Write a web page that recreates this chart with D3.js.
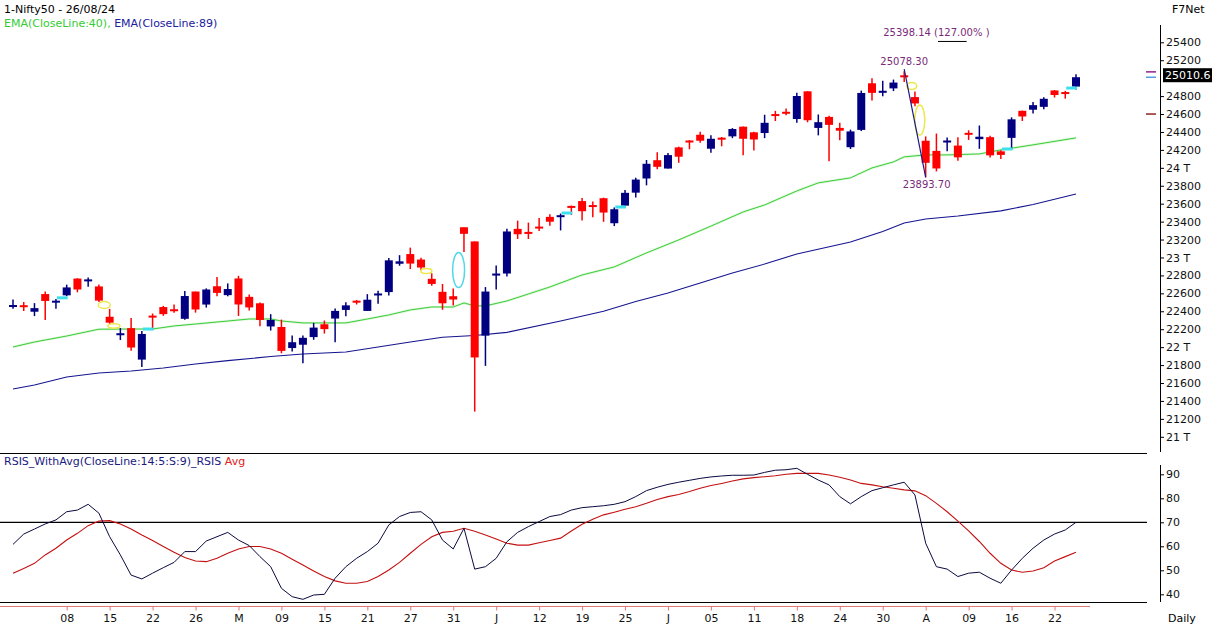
<!DOCTYPE html>
<html><head><meta charset="utf-8">
<script src="https://cdn.jsdelivr.net/npm/d3@7/dist/d3.min.js"></script>
<style>
html,body{margin:0;padding:0;background:#fff;overflow:hidden}
svg{display:block;font-family:"DejaVu Sans",Verdana,sans-serif}
</style></head><body>
<svg id="c" width="1212" height="627"></svg>
<script>
// ---- data (Nifty50 daily, 01 Apr 2024 .. 26 Aug 2024) ----
const opens = [22455,22460,22395,22592,22500,22578,22765,22735,22677,22339,
22140,22212,21861,22345,22447,22421,22316,22620,22475,22679,
22580,22766,22561,22489,22231,22225,21990,22027,22112,22255,
22319,22415,22512,22404,22577,22614,22930,23038,22977,22762,
22617,22568,23337,23179,22128,22798,22821,23319,23283,23344,
23453,23455,23570,23629,23580,23661,23382,23578,23723,23881,
24085,23992,24228,24300,24369,24213,24329,24351,24459,24396,
24388,24590,24615,24544,24853,24445,24568,24445,24230,24423,
24943,24839,24886,25030,24789,24302,24189,24289,24248,24390,
24320,24342,24184,24334,24636,24648,24680,24863,24845,24906];
const highs = [22530,22503,22491,22620,22537,22697,22768,22776,22700,22427,
22213,22326,22179,22375,22460,22476,22625,22620,22655,22783,
22711,22795,22588,22499,22368,22307,22131,22131,22270,22297,
22432,22502,22525,22591,22629,22993,23026,23110,22998,22825,
22705,22653,23338,23179,22670,22910,23320,23411,23389,23441,
23481,23490,23579,23664,23624,23667,23558,23754,23889,24087,
24174,24164,24236,24309,24401,24363,24344,24443,24461,24402,
24592,24635,24661,24837,24854,24595,24582,24504,24426,24861,
24999,24971,24984,25078.3,24851,24350,24382,24337,24340,24419,
24472,24359,24196,24563,24638,24734,24787,24867,24858,25043];
const lows = [22428,22403,22346,22303,22427,22568,22612,22673,22503,22259,
22079,21961,21778,22198,22349,22384,22305,22385,22441,22568,
22567,22348,22409,22232,22185,21932,21950,21821,22082,22151,
22054,22345,22476,22404,22483,22577,22908,22871,22858,22685,
22417,22465,23062,21281,21791,22642,22789,23206,23206,23295,
23354,23302,23473,23412,23450,23398,23350,23562,23670,23805,
23985,23992,24056,24207,24281,24168,24240,24331,24141,24193,
24331,24522,24587,24504,24508,24362,24074,24307,24210,24410,
24750,24798,24856,24956,24686,23893.7,23960,24184,24079,24311,
24212,24116,24099,24204,24522,24607,24654,24784,24771,24874];
const closes = [22462,22453,22435,22515,22514,22666,22643,22754,22519,22273,
22148,21996,22147,22336,22368,22402,22570,22420,22643,22605,
22648,22476,22443,22303,22303,21958,22055,22104,22218,22201,
22404,22466,22502,22529,22598,22968,22957,22932,22888,22705,
22489,22531,23264,21885,22620,22821,23290,23259,23265,23323,
23399,23466,23558,23516,23567,23501,23538,23721,23869,24045,
24011,24142,24124,24287,24302,24324,24321,24433,24324,24316,
24502,24587,24613,24801,24531,24509,24479,24414,24406,24835,
24836,24857,24951,25011,24718,24056,23993,24298,24117,24368,
24347,24139,24144,24541,24573,24699,24770,24812,24823,25010.6];

// EMA lines: candle index / value
const ema40Idx = [0,2,5,8,11,13,15,17,19,22,24,25,27,31,33,35,37,39,41,42,43,44,46,48,50,53,56,59,62,65,68,70,73,75,78,80,82,83,85,87,90,92,95,99];
const ema40Val = [22002,22057,22124,22200,22202,22202,22236,22258,22280,22314,22314,22292,22270,22270,22314,22359,22415,22448,22448,22493,22460,22460,22515,22593,22671,22805,22895,23051,23196,23350,23508,23586,23742,23832,23888,23999,24066,24122,24144,24144,24155,24200,24256,24334];
const ema89Idx = [0,2,5,8,11,14,17,20,24,27,31,34,37,40,43,46,51,55,58,61,64,67,70,73,78,81,83,85,88,92,95,99];
const ema89Val = [21533,21578,21667,21712,21734,21767,21812,21850,21895,21924,21946,22002,22057,22110,22130,22165,22292,22400,22510,22604,22715,22827,22927,23039,23173,23290,23385,23429,23463,23520,23590,23708];

// RSI panel
const rsi = [60.8,65.1,67.2,69.3,71.0,74.4,75.1,77.5,73.8,64.0,
56.4,48.0,46.4,48.8,51.1,53.3,57.8,57.8,62.2,64.0,
65.8,62.6,60.3,55.7,51.5,42.5,39.0,37.9,39.7,40.0,
46.7,51.5,55.0,57.8,61.3,68.9,72.4,74.1,74.4,71.0,
62.6,58.9,67.5,50.5,51.5,55.0,61.9,65.8,68.2,70.3,
72.4,73.2,75.1,76.1,76.5,76.9,77.5,78.6,80.7,83.2,
84.6,85.8,86.7,87.5,88.3,88.9,89.3,89.6,89.6,89.7,
90.8,91.7,91.9,92.5,90.0,87.6,85.6,80.7,77.7,80.7,
83.2,84.4,85.6,86.7,81.4,61.3,51.5,50.5,47.4,48.8,
49.2,46.7,44.6,50.1,55.0,59.2,62.6,65.1,66.8,70.0];
const rsiAvg = [48.8,50.8,52.9,56.4,59.2,62.6,65.4,68.6,70.5,70.7,
69.3,67.2,64.7,62.4,59.9,57.5,55.3,53.9,53.6,55.0,
57.1,58.9,59.9,59.9,58.9,57.1,54.6,52.2,49.7,47.4,
45.6,44.6,44.6,45.3,47.4,50.1,53.3,57.1,60.8,64.0,
65.8,66.3,67.5,66.3,64.7,63.0,61.3,60.5,60.5,61.5,
62.4,63.4,66.4,69.2,71.3,73.1,74.2,75.4,76.5,77.9,
79.5,80.7,81.6,82.8,84.2,85.3,86.2,87.2,88.1,88.6,
89.0,89.4,90.0,90.4,90.4,90.4,89.7,88.8,87.6,86.2,
85.6,84.8,84.2,83.5,83.1,81.1,77.9,74.4,70.5,66.4,
62.0,57.1,52.9,50.1,49.2,49.7,51.1,53.9,55.7,57.5];

const xTickIdx = [5,9,13,17,21,25,29,33,37,41,45,49,53,57,61,65,69,73,77,81,85,89,93,97];
const xTickLabels = ["08","15","22","26","M","09","15","21","27","31","J","12","19","25","J","05","11","18","24","30","A","09","16","22"];
const yTickVals = [21000,21200,21400,21600,21800,22000,22200,22400,22600,22800,23000,23200,23400,23600,23800,24000,24200,24400,24600,24800,25200,25400];
const rsiTickVals = [40,50,60,70,80,90];

// pattern markers (candle index, price)
const cyanDashes = [[4,5,22550],[12,13,22202],[51,52,23496],[56,57,23563],[92,93,24210],[98,99,24890]];
const yellowEllipses = [[8.5,22470,6,3.5],[9.4,22236,6,2.2],[38.5,22849,5.5,2.5],[83.7,24912,5,3.5],[84.45,24533,5,15]];
const cyanEllipses = [[41.5,22860,6,17.5]];

// ---- drawing ----
const svg = d3.select("#c");
svg.append("rect").attr("width",1212).attr("height",627).attr("fill","#fff");
const FONT = '"DejaVu Sans",Verdana,sans-serif';

const x = d3.scaleLinear().domain([0,99]).range([13,1076]);
const y = d3.scaleLinear().domain([21000,25400]).range([436.8,42.3]);
const ry = d3.scaleLinear().domain([40,90]).range([594.3,474.3]);

const BLUE = "#000080", RED = "#ff0000";

// EMA lines
const lineP = d3.line().x(d=>x(d[0])).y(d=>y(d[1]));
const e40 = ema40Idx.map((d,k)=>[d,ema40Val[k]]);
const e89 = ema89Idx.map((d,k)=>[d,ema89Val[k]]);
svg.append("path").attr("d",lineP(e40)).attr("fill","none").attr("stroke","#c8f4c0").attr("stroke-width",2.6).attr("opacity",0.6);
svg.append("path").attr("d",lineP(e40)).attr("fill","none").attr("stroke","#3ccc3c").attr("stroke-width",1);
svg.append("path").attr("d",lineP(e89)).attr("fill","none").attr("stroke","#15158f").attr("stroke-width",1.1);

// candles
const cg = svg.append("g");
const idx = d3.range(opens.length);
const bw = 8;
cg.selectAll("line.w").data(idx).join("line")
  .attr("x1",i=>x(i)).attr("x2",i=>x(i))
  .attr("y1",i=>y(highs[i])).attr("y2",i=>y(lows[i]))
  .attr("stroke",i=>closes[i]>opens[i]?BLUE:RED).attr("stroke-width",1.5);
cg.selectAll("rect.b").data(idx).join("rect")
  .attr("x",i=>x(i)-bw/2).attr("width",bw)
  .attr("y",i=>{const a=y(Math.max(opens[i],closes[i])),b=y(Math.min(opens[i],closes[i]));return (b-a)<2?(a+b)/2-1:a;})
  .attr("height",i=>Math.max(2,Math.abs(y(opens[i])-y(closes[i]))))
  .attr("fill",i=>closes[i]>opens[i]?BLUE:RED);

// markers
svg.selectAll("line.cy").data(cyanDashes).join("line")
  .attr("x1",d=>x(d[0])+1).attr("x2",d=>x(d[1])+1).attr("y1",d=>y(d[2])).attr("y2",d=>y(d[2]))
  .attr("stroke","#3fe0ee").attr("stroke-width",3);
svg.selectAll("ellipse.ye").data(yellowEllipses).join("ellipse")
  .attr("cx",d=>x(d[0])).attr("cy",d=>y(d[1])).attr("rx",d=>d[2]).attr("ry",d=>d[3])
  .attr("fill","none").attr("stroke","#ece84a").attr("stroke-width",1.5);
svg.selectAll("ellipse.ce").data(cyanEllipses).join("ellipse")
  .attr("cx",d=>x(d[0])).attr("cy",d=>y(d[1])).attr("rx",d=>d[2]).attr("ry",d=>d[3])
  .attr("fill","none").attr("stroke","#50d8e8").attr("stroke-width",1.5);

// swing line and annotations
const hiI = 83, loI = 85;
svg.append("line").attr("x1",x(hiI)).attr("y1",y(highs[hiI])-2).attr("x2",x(loI)).attr("y2",y(lows[loI]))
  .attr("stroke","#1a1a8a").attr("stroke-width",1.2);
const PURP = "#7a2a7a";
svg.append("text").attr("x",x(hiI)).attr("y",y(highs[hiI])-6).attr("text-anchor","middle")
  .attr("font-size",10).attr("fill",PURP).text(d3.format(".2f")(highs[hiI]));
svg.append("text").attr("x",x(loI)+1).attr("y",y(lows[loI])+11).attr("text-anchor","middle")
  .attr("font-size",10).attr("fill",PURP).text(d3.format(".2f")(lows[loI]));
const extVal = 25398.14;
const ext = svg.append("text").attr("x",x(hiI)-21).attr("y",y(extVal)-6)
  .attr("font-size",10).attr("fill",PURP).text(d3.format(".2f")(extVal)+" (127.00% )");
try{
  const off = ext.node().getSubStringLength(0,10), wd = ext.node().getSubStringLength(10,5);
  svg.append("line").attr("x1",x(hiI)-21+off).attr("x2",x(hiI)-21+off+wd)
    .attr("y1",y(extVal)-1).attr("y2",y(extVal)-1).attr("stroke","#000").attr("stroke-width",1);
}catch(e){}

// main y axis
const yAx = svg.append("g").attr("transform","translate(1160,0)")
  .call(d3.axisRight(y).tickValues(yTickVals).tickSize(4).tickPadding(2)
    .tickFormat(v=> v%1000===0 ? (v/1000)+" T" : String(v)));
yAx.select(".domain").remove();
yAx.selectAll("text").attr("font-size",11).attr("font-family",FONT).attr("fill","#111");
yAx.selectAll("line").attr("stroke","#000");
svg.append("line").attr("x1",1160.5).attr("x2",1160.5).attr("y1",25).attr("y2",452).attr("stroke","#000");

// last price box and right-edge markers
const last = closes[closes.length-1];
svg.append("rect").attr("x",1163).attr("y",y(last)-9).attr("width",52).attr("height",14).attr("fill","#000");
svg.append("text").attr("x",1165).attr("y",y(last)+2).attr("font-size",11).attr("fill","#fff").text(String(last));
const edgeMarks = [[25070,"#800080"],[last,"#3a8fe0"],[24600,"#800000"]];
svg.selectAll("line.em").data(edgeMarks).join("line")
  .attr("x1",1146).attr("x2",1156).attr("y1",d=>y(d[0])).attr("y2",d=>y(d[0])).attr("stroke",d=>d[1]).attr("stroke-width",1.3);

// panel separators
svg.append("line").attr("x1",0).attr("x2",1147).attr("y1",453.5).attr("y2",453.5).attr("stroke","#000").attr("stroke-width",1.2);
svg.append("line").attr("x1",0).attr("x2",1147).attr("y1",ry(70)).attr("y2",ry(70)).attr("stroke","#000").attr("stroke-width",1.2);
svg.append("line").attr("x1",0).attr("x2",1147).attr("y1",602.5).attr("y2",602.5).attr("stroke","#000").attr("stroke-width",1.2);

// RSI lines
const rl = d3.line().x((d,i)=>x(i)).y(d=>ry(d));
svg.append("path").attr("d",rl(rsiAvg)).attr("fill","none").attr("stroke","#c41010").attr("stroke-width",1.1);
svg.append("path").attr("d",rl(rsi)).attr("fill","none").attr("stroke","#0a0a40").attr("stroke-width",1);

// RSI axis
const rAx = svg.append("g").attr("transform","translate(1160,0)")
  .call(d3.axisRight(ry).tickValues(rsiTickVals).tickSize(4).tickPadding(2));
rAx.select(".domain").remove();
rAx.selectAll("text").attr("font-size",11).attr("font-family",FONT).attr("fill","#111");
svg.append("line").attr("x1",1160.5).attr("x2",1160.5).attr("y1",465).attr("y2",602).attr("stroke","#000");

// x axis
svg.append("line").attr("x1",0).attr("x2",1090).attr("y1",606.5).attr("y2",606.5).attr("stroke","#e07878");
const xAx = svg.append("g").attr("transform","translate(0,606.5)")
  .call(d3.axisBottom(x).tickValues(xTickIdx).tickSize(4).tickPadding(4).tickFormat((d,k)=>xTickLabels[k]));
xAx.select(".domain").remove();
xAx.selectAll("line").attr("stroke","#e07878");
xAx.selectAll("text").attr("font-size",11).attr("font-family",FONT).attr("fill","#111");

// header texts
svg.append("text").attr("x",4).attr("y",13).attr("font-size",11).attr("fill","#000").text("1-Nifty50 - 26/08/24");
const lg = svg.append("text").attr("x",4).attr("y",27).attr("font-size",11);
lg.append("tspan").attr("fill","#33cc33").text("EMA(CloseLine:40), ");
lg.append("tspan").attr("fill","#2020a0").text("EMA(CloseLine:89)");
svg.append("text").attr("x",1172).attr("y",13).attr("font-size",11).attr("fill","#000").text("F7Net");
const rg = svg.append("text").attr("x",4).attr("y",465).attr("font-size",11);
rg.append("tspan").attr("fill","#1a1a80").text("RSIS_WithAvg(CloseLine:14:5:S:9)_RSIS ");
rg.append("tspan").attr("fill","#e02020").text("Avg");
svg.append("text").attr("x",1168).attr("y",622).attr("font-size",11).attr("fill","#000").text("Daily");
</script>
</body></html>
